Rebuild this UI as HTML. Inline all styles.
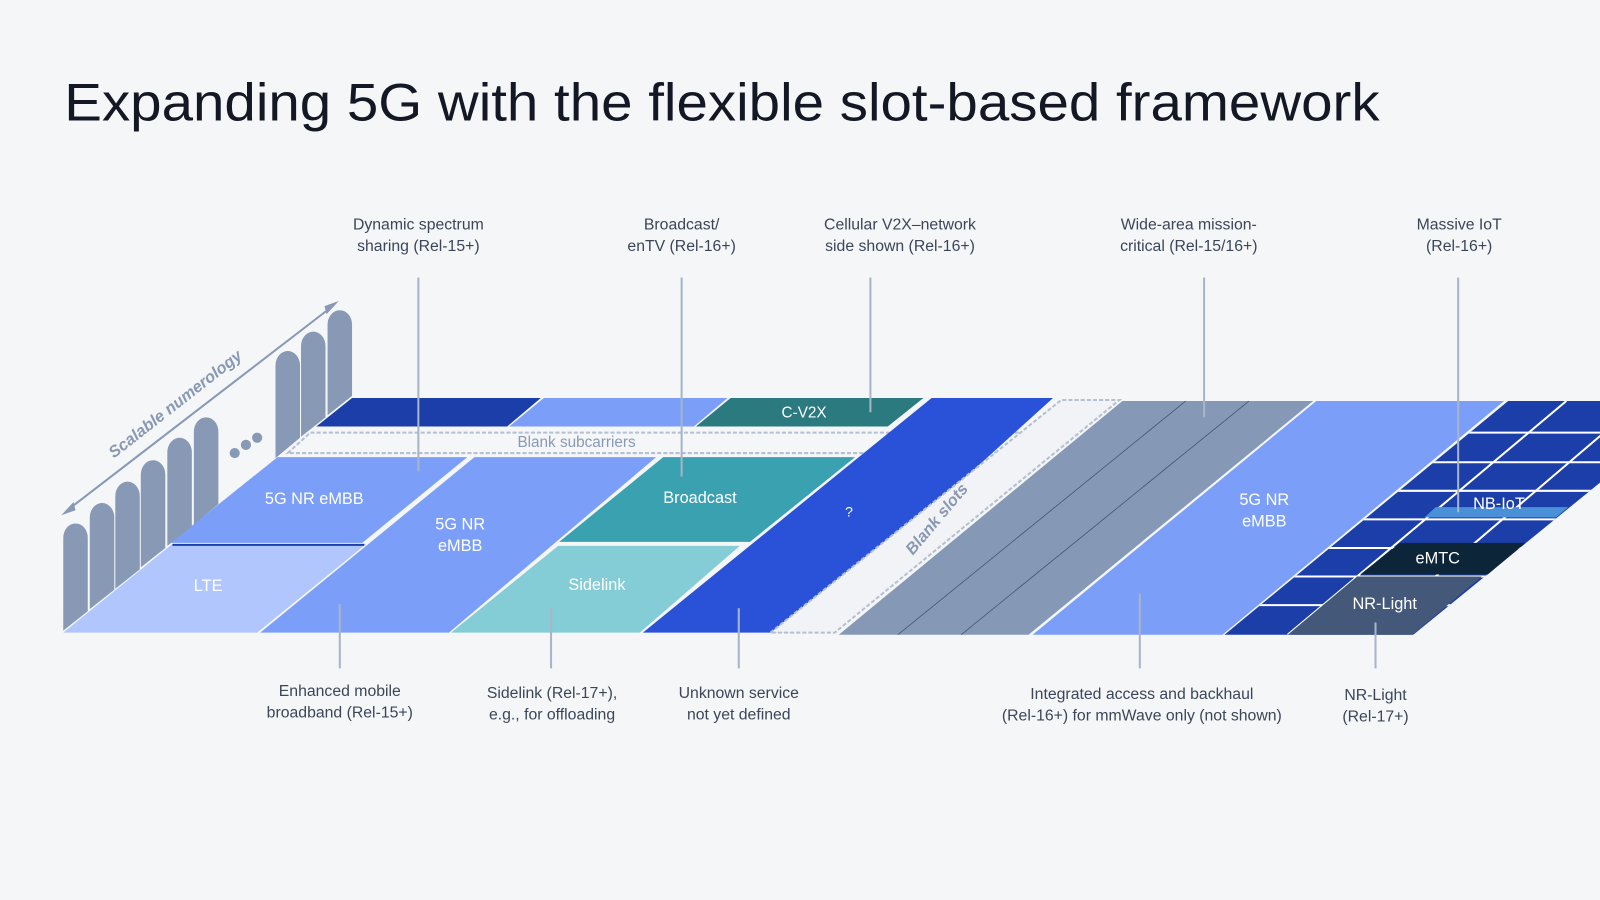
<!DOCTYPE html>
<html><head><meta charset="utf-8"><style>
html,body{margin:0;padding:0;background:#f4f6f8;}
svg{display:block;font-family:"Liberation Sans",sans-serif;}
</style></head><body>
<svg width="1600" height="900" viewBox="0 0 1568 882" preserveAspectRatio="none" xmlns="http://www.w3.org/2000/svg">
<defs>
<clipPath id="gc"><polygon points="1200,622 1478,393 1568,393 1568,473 1385,622"/></clipPath>
</defs>
<rect width="1568" height="882" fill="#f4f6f8"/>
<text x="63" y="118" font-size="52" fill="#141824" textLength="1289" lengthAdjust="spacingAndGlyphs">Expanding 5G with the flexible slot-based framework</text>

<polygon points="310,418 345,390 530,390 497,418" fill="#1c3ea8"/>
<polygon points="499,418 533,390 713,390 680,418" fill="#7b9ff8"/>
<polygon points="682,418 716,390 905,390 870,418" fill="#2b7a80"/>
<text x="788" y="409" font-size="15" fill="#fff" text-anchor="middle">C-V2X</text>

<polygon points="282,444 304,424 1045,424 1025,444" fill="none" stroke="#b5c0d2" stroke-width="2" stroke-dasharray="4,2"/>
<text x="565" y="438" font-size="15" fill="#8a99b3" text-anchor="middle">Blank subcarriers</text>

<polygon points="62,620 169,533 359,533 252,620" fill="#b0c6fd"/>
<text x="204" y="579" font-size="16" fill="#fff" text-anchor="middle">LTE</text>
<polygon points="167,532 272,448 458,448 355,532" fill="#7b9ff8"/>
<line x1="169" y1="534" x2="357" y2="534" stroke="#1c3ea8" stroke-width="2"/>
<text x="308" y="494" font-size="16" fill="#fff" text-anchor="middle">5G NR eMBB</text>
<polygon points="255,620 465,448 643,448 440,620" fill="#7b9ff8"/>
<text x="451" y="519" font-size="16" fill="#fff" text-anchor="middle">5G NR</text>
<text x="451" y="540" font-size="16" fill="#fff" text-anchor="middle">eMBB</text>
<polygon points="548,531 650,448 838,448 735,531" fill="#3aa1b1"/>
<text x="686" y="493" font-size="16" fill="#fff" text-anchor="middle">Broadcast</text>
<polygon points="442,620 547,535 725,535 627,620" fill="#84ccd6"/>
<text x="585" y="578" font-size="16" fill="#fff" text-anchor="middle">Sidelink</text>
<polygon points="630,620 913,390 1032,390 778,620" fill="#2a52d8"/>
<text x="832" y="506" font-size="14" fill="#fff" text-anchor="middle">?</text>

<polygon points="755,620 1040,392 1097,392 818,620" fill="#f1f3f6" stroke="#b5c0d2" stroke-width="2" stroke-dasharray="4,2"/>
<text x="922" y="512" font-size="16" font-weight="bold" font-style="italic" fill="#8a99b3" text-anchor="middle" transform="rotate(-50 922 512)">Blank slots</text>

<polygon points="822,622 1100,393 1287,393 1008,622" fill="#8598b5"/>
<line x1="880" y1="622" x2="1162" y2="393" stroke="#4a5670" stroke-width="0.8"/>
<line x1="942" y1="622" x2="1224" y2="393" stroke="#4a5670" stroke-width="0.8"/>

<polygon points="1012,622 1290,393 1474,393 1198,622" fill="#7b9ff8"/>
<text x="1239" y="495" font-size="16" fill="#fff" text-anchor="middle">5G NR</text>
<text x="1239" y="516" font-size="16" fill="#fff" text-anchor="middle">eMBB</text>

<polygon points="1200,622 1478,393 1568,393 1568,473 1385,622" fill="#1c3ea8"/>
<g stroke="#fff" stroke-width="2" clip-path="url(#gc)">
<line x1="1400" y1="424" x2="1568" y2="424"/>
<line x1="1370" y1="453" x2="1568" y2="453"/>
<line x1="1340" y1="481" x2="1568" y2="481"/>
<line x1="1300" y1="509" x2="1568" y2="509"/>
<line x1="1270" y1="537" x2="1568" y2="537"/>
<line x1="1230" y1="565" x2="1568" y2="565"/>
<line x1="1200" y1="593" x2="1568" y2="593"/>
<line x1="1535" y1="393" x2="1262" y2="622"/>
<line x1="1600" y1="400" x2="1340" y2="622"/>
</g>
<polygon points="1262,622 1330,565 1452,565 1384,622" fill="#44587a"/>
<text x="1357" y="597" font-size="16" fill="#fff" text-anchor="middle">NR-Light</text>
<polygon points="1333,563 1372,532 1495,532 1458,563" fill="#0d2538"/>
<text x="1409" y="552" font-size="16" fill="#fff" text-anchor="middle">eMTC</text>
<polygon points="1396,507 1407,497 1537,497 1525,507" fill="#4a90d8"/>
<text x="1469" y="499" font-size="16" fill="#fff" text-anchor="middle">NB-IoT</text>

<g fill="#8799b5">
<path d="M62,618 L62,527 A12,14 0 0 1 86,527 L86,599 Z"/>
<path d="M88,597 L88,507 A12,14 0 0 1 112,507 L112,578 Z"/>
<path d="M113,577 L113,486 A12,14 0 0 1 137,486 L137,558 Z"/>
<path d="M138,556 L138,465 A12,14 0 0 1 162,465 L162,537 Z"/>
<path d="M164,535 L164,443 A12,14 0 0 1 188,443 L188,516 Z"/>
<path d="M190,514 L190,423 A12,14 0 0 1 214,423 L214,494 Z"/>
<path d="M270,449 L270,358 A12,14 0 0 1 294,358 L294,429 Z"/>
<path d="M295,428 L295,339 A12,14 0 0 1 319,339 L319,409 Z"/>
<path d="M321,407 L321,318 A12,14 0 0 1 345,318 L345,388 Z"/>
<circle cx="230" cy="444" r="5"/><circle cx="241" cy="436" r="5"/><circle cx="252" cy="429" r="5"/>
</g>
<line x1="66" y1="500" x2="326" y2="300" stroke="#8799b5" stroke-width="2"/>
<polygon points="60,505 72,492 74,500" fill="#8799b5"/>
<polygon points="332,295 320,308 318,300" fill="#8799b5"/>
<text x="175" y="400" font-size="16" font-weight="bold" font-style="italic" fill="#8a99b3" text-anchor="middle" transform="rotate(-38 175 400)">Scalable numerology</text>

<g stroke="#a8b4c8" stroke-width="2">
<line x1="410" y1="272" x2="410" y2="462"/>
<line x1="668" y1="272" x2="668" y2="467"/>
<line x1="853" y1="272" x2="853" y2="404"/>
<line x1="1180" y1="272" x2="1180" y2="409"/>
<line x1="1429" y1="272" x2="1429" y2="502"/>
<line x1="333" y1="592" x2="333" y2="655"/>
<line x1="540" y1="596" x2="540" y2="655"/>
<line x1="724" y1="596" x2="724" y2="655"/>
<line x1="1117" y1="582" x2="1117" y2="655"/>
<line x1="1348" y1="610" x2="1348" y2="655"/>
</g>
<g font-size="15.5" fill="#3c4658" text-anchor="middle">
<text x="410" y="225">Dynamic spectrum</text><text x="410" y="246">sharing (Rel-15+)</text>
<text x="668" y="225">Broadcast/</text><text x="668" y="246">enTV (Rel-16+)</text>
<text x="882" y="225">Cellular V2X–network</text><text x="882" y="246">side shown (Rel-16+)</text>
<text x="1165" y="225">Wide-area mission-</text><text x="1165" y="246">critical (Rel-15/16+)</text>
<text x="1430" y="225">Massive IoT</text><text x="1430" y="246">(Rel-16+)</text>
<text x="333" y="682">Enhanced mobile</text><text x="333" y="703">broadband (Rel-15+)</text>
<text x="541" y="684">Sidelink (Rel-17+),</text><text x="541" y="705">e.g., for offloading</text>
<text x="724" y="684">Unknown service</text><text x="724" y="705">not yet defined</text>
<text x="1119" y="685">Integrated access and backhaul</text><text x="1119" y="706">(Rel-16+) for mmWave only (not shown)</text>
<text x="1348" y="686">NR-Light</text><text x="1348" y="707">(Rel-17+)</text>
</g>
</svg>
</body></html>
